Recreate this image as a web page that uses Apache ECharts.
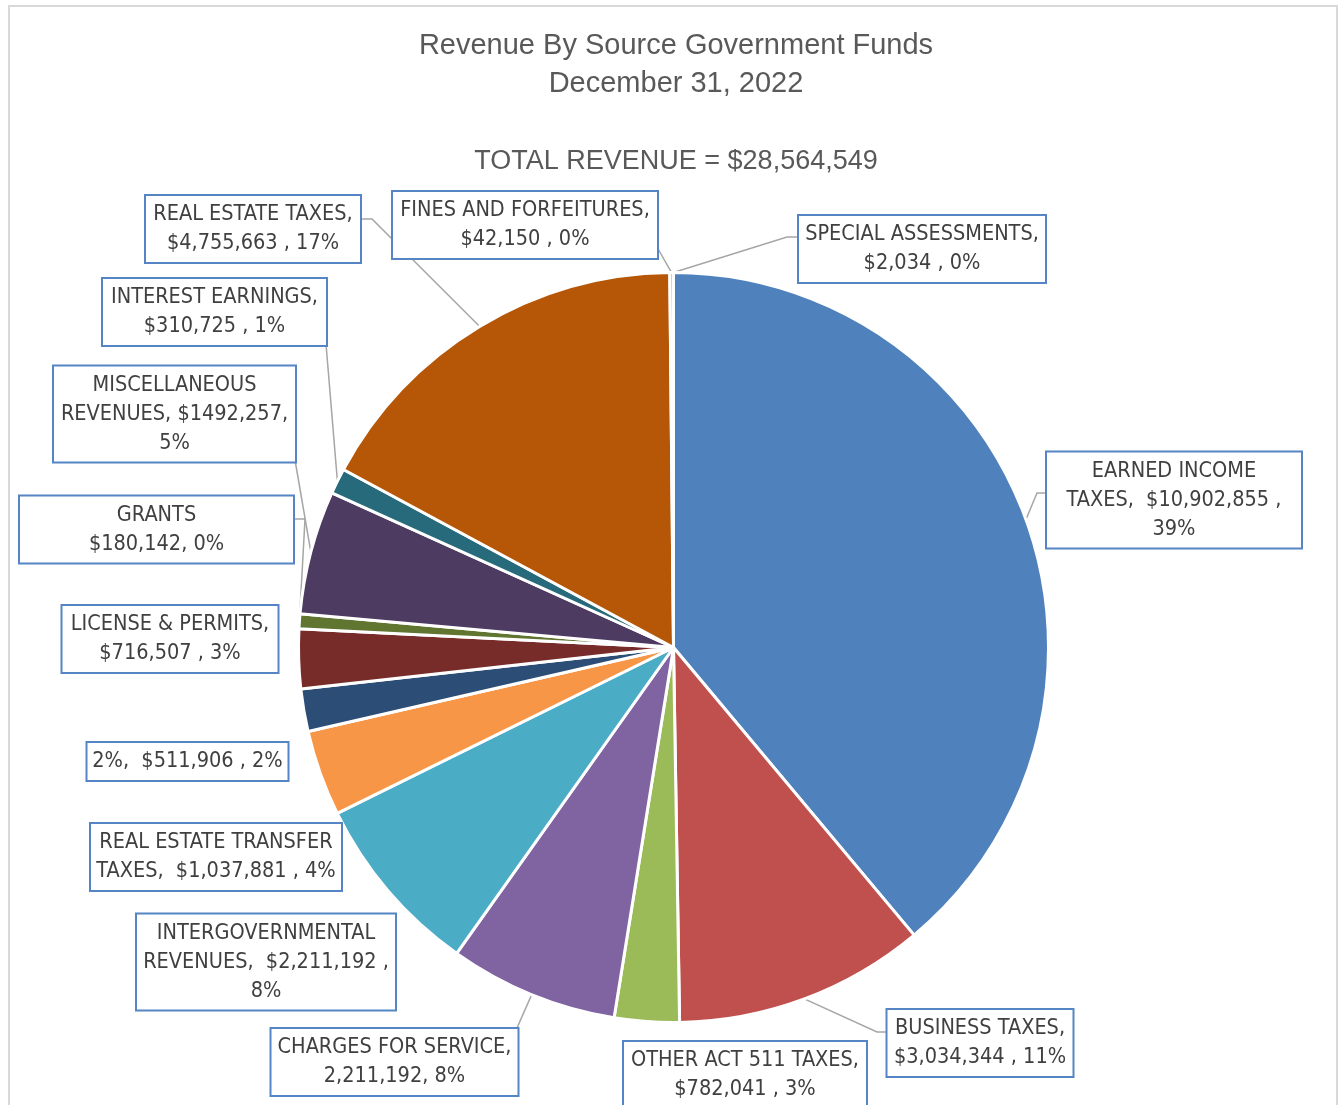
<!DOCTYPE html>
<html>
<head>
<meta charset="utf-8">
<script src="https://cdn.jsdelivr.net/npm/echarts@6/dist/echarts.min.js"></script>
<style>
html,body{margin:0;padding:0;background:#fff;}
#chart{width:1339px;height:1105px;}
</style>
</head>
<body>
<div id="chart"></div>
<script>
// ---- data ----
const categories = ['EARNED INCOME TAXES','BUSINESS TAXES','OTHER ACT 511 TAXES','CHARGES FOR SERVICE','INTERGOVERNMENTAL REVENUES','REAL ESTATE TRANSFER TAXES','2%','LICENSE & PERMITS','GRANTS','MISCELLANEOUS REVENUES','INTEREST EARNINGS','REAL ESTATE TAXES','FINES AND FORFEITURES','SPECIAL ASSESSMENTS'];
// slice values (charges for service estimated from its slice, which is visibly smaller than intergovernmental)
const values = [10902855, 3034344, 782041, 2040000, 2211192, 1037881, 511906, 716507, 180142, 1492257, 310725, 4755663, 42150, 2034];
const labelTexts = [
  'EARNED INCOME\nTAXES,  $10,902,855 ,\n39%',
  'BUSINESS TAXES,\n$3,034,344 , 11%',
  'OTHER ACT 511 TAXES,\n$782,041 , 3%',
  'CHARGES FOR SERVICE,\n2,211,192, 8%',
  'INTERGOVERNMENTAL\nREVENUES,  $2,211,192 ,\n8%',
  'REAL ESTATE TRANSFER\nTAXES,  $1,037,881 , 4%',
  '2%,  $511,906 , 2%',
  'LICENSE & PERMITS,\n$716,507 , 3%',
  'GRANTS\n$180,142, 0%',
  'MISCELLANEOUS\nREVENUES, $1492,257,\n5%',
  'INTEREST EARNINGS,\n$310,725 , 1%',
  'REAL ESTATE TAXES,\n$4,755,663 , 17%',
  'FINES AND FORFEITURES,\n$42,150 , 0%',
  'SPECIAL ASSESSMENTS,\n$2,034 , 0%'
];
const titleText = 'Revenue By Source Government Funds\nDecember 31, 2022';
const totalText = 'TOTAL REVENUE = $28,564,549';

// ---- styles / layout ----
const colors = ['#4F81BD','#C0504D','#9BBB59','#8064A2','#4BACC6','#F79646','#2C4D75','#772C2A','#5F7530','#4D3B62','#276A7C','#B65708','#729ACA','#CD7371'];
const boxCenters = [[1174,500],[980,1043],[745,1075],[394.5,1062],[266,962],[216,857],[187.5,761.5],[170,639],[156.5,529.5],[174.5,414],[214.5,312],[253,229],[525,225],[922,249]];
const boxWidths = [254,185,242,246,258,250,200,215,273,241,223,214,264,246];
const leaderTails = {
  0: [[1037,493],[1047,493]],
  1: [[877,1032],[887,1032]],
  3: [[517,1028],[517,1028]],
  8: [[305,519],[293,519]],
  9: [[295,460],[295,460]],
  10: [[326,344],[326,344]],
  11: [[372,219],[361,219]],
  12: [[657,247],[657,247]],
  13: [[787,237],[799,237]]
};

const chart = echarts.init(document.getElementById('chart'), null, {renderer: 'canvas'});

const pieData = categories.map(function (name, i) {
  return {
    name: name,
    value: values[i],
    itemStyle: { color: colors[i] },
    label: { width: boxWidths[i] - 8 },
    labelLine: { show: !!leaderTails[i] }
  };
});

chart.setOption({
  animation: false,
  backgroundColor: '#ffffff',
  graphic: [{
    type: 'rect',
    shape: { x: 9, y: 6, width: 1328, height: 1200 },
    style: { fill: 'none', stroke: '#D9D9D9', lineWidth: 2 },
    silent: true
  }],
  title: [{
    text: titleText,
    left: 676,
    top: 27,
    padding: 0,
    textAlign: 'center',
    textStyle: { fontFamily: "'Liberation Sans', Arial, sans-serif", fontSize: 29, fontWeight: 'normal', color: '#595959', lineHeight: 38 }
  }, {
    text: totalText,
    left: 676,
    top: 145,
    padding: 0,
    textAlign: 'center',
    textStyle: { fontFamily: "'Liberation Sans', Arial, sans-serif", fontSize: 27, fontWeight: 'normal', color: '#595959', lineHeight: 34 }
  }],
  series: [{
    type: 'pie',
    center: [673.5, 647.5],
    radius: 375,
    startAngle: 90,
    clockwise: true,
    avoidLabelOverlap: false,
    silent: true,
    itemStyle: { borderColor: '#ffffff', borderWidth: 3 },
    label: {
      show: true,
      position: 'outside',
      formatter: function (p) { return labelTexts[p.dataIndex]; },
      fontFamily: "'Liberation Sans Narrow', 'DejaVu Sans Condensed', sans-serif",
      fontSize: 21.5,
      lineHeight: 29,
      color: '#404040',
      backgroundColor: '#ffffff',
      borderColor: '#5585C5',
      borderWidth: 2,
      padding: [4, 4],
      align: 'center',
      overflow: 'none'
    },
    labelLine: {
      show: true,
      lineStyle: { color: '#A6A6A6', width: 1.5 }
    },
    labelLayout: function (p) {
      const i = p.dataIndex;
      const c = boxCenters[i];
      const out = { x: c[0], y: c[1], align: 'center', verticalAlign: 'middle' };
      const tail = leaderTails[i];
      if (tail && p.labelLinePoints && p.labelLinePoints.length) {
        out.labelLinePoints = [p.labelLinePoints[0], tail[0], tail[1]];
      }
      return out;
    },
    data: pieData
  }]
});
</script>
</body>
</html>
